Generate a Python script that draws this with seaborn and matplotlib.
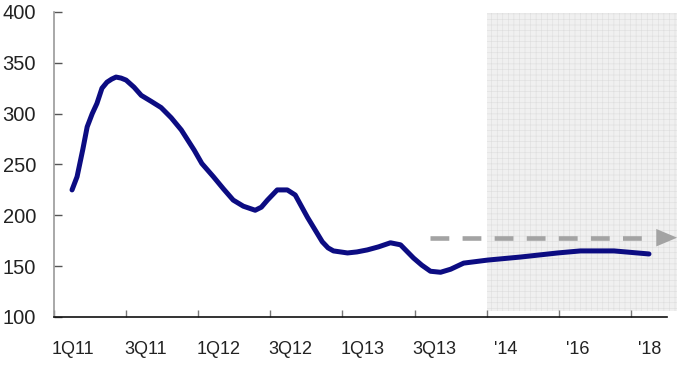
import matplotlib
matplotlib.use("Agg")
import matplotlib.pyplot as plt
import matplotlib.transforms as mtransforms
import seaborn as sns
import pandas as pd

# position along the axis (one unit = one quarter up to '14, compressed after)
x_pos = [0.5, 0.64, 0.8, 0.92, 1.06, 1.19, 1.33, 1.47, 1.6, 1.72, 1.86, 2.0,
         2.22, 2.42, 2.7, 2.97, 3.25, 3.53, 3.89, 4.1, 4.42, 4.7, 4.97, 5.25,
         5.58, 5.75, 5.92, 6.19, 6.47, 6.69, 7.03, 7.44, 7.6, 7.75, 8.14, 8.4,
         8.69, 9.0, 9.33, 9.61, 9.97, 10.2, 10.44, 10.72, 11.0, 11.36, 12.03,
         12.94, 13.97, 14.6, 15.53, 16.5]
values = [225, 238, 265, 287, 300, 310, 325, 331, 334, 336, 335, 333,
          326, 318, 312, 306, 296, 284, 264, 251, 238, 226, 215, 209,
          205, 208, 215, 225, 225, 220, 198, 174, 168, 165, 163, 164,
          166, 169, 173, 171, 158, 151, 145, 144, 147, 153, 156,
          159, 163, 165, 165, 162]

tick_pos = [0, 2, 4, 6, 8, 10, 12, 14, 16]
tick_labels = ["1Q11", "3Q11", "1Q12", "3Q12", "1Q13", "3Q13", "'14", "'16", "'18"]
forecast_start = 12
forecast_end = 17.28
arrow_start = 10.44
arrow_level = 178

df = pd.DataFrame({"x": x_pos, "value": values})

sns.set_theme(style="white")
plt.rcParams["font.family"] = ["Liberation Sans", "DejaVu Sans"]
plt.rcParams["hatch.linewidth"] = 0.4

fig = plt.figure(figsize=(7, 3.69), dpi=100)
ax = fig.add_axes([54 / 700, 1 - 317 / 369, (667 - 54) / 700, (317 - 12) / 369])

# forecast shading
ax.axvspan(forecast_start, forecast_end, ymin=0.02, ymax=0.997,
           facecolor="#f0f0f0", edgecolor="#dedede", hatch="+++",
           linewidth=0, clip_on=False, zorder=0)

sns.lineplot(data=df, x="x", y="value", ax=ax, color="#0c0c82",
             linewidth=3.6, solid_capstyle="round", solid_joinstyle="round",
             zorder=3)

# dashed forecast arrow
ax.plot([arrow_start, forecast_end - 0.72], [arrow_level, arrow_level],
        color="#a3a3a3", linewidth=3.3, dashes=(4.1, 2.9),
        solid_capstyle="butt", clip_on=False, zorder=2)
ax.annotate("", xy=(forecast_end, arrow_level),
            xytext=(forecast_end - 0.72, arrow_level),
            arrowprops=dict(arrowstyle="-|>,head_length=1.0,head_width=0.42",
                            color="#a3a3a3", lw=0, shrinkA=0, shrinkB=0,
                            mutation_scale=15),
            annotation_clip=False, zorder=2)

ax.set_xlim(0, 17)
ax.set_ylim(100, 400)
ax.set_yticks(range(100, 401, 50))
ax.set_xticks(tick_pos)
ax.set_xticklabels(tick_labels, ha="left")
ax.set_xlabel("")
ax.set_ylabel("")

for s in ["top", "right"]:
    ax.spines[s].set_visible(False)
ax.spines["left"].set_color("#999999")
ax.spines["left"].set_linewidth(1.2)
ax.spines["bottom"].set_color("#111111")
ax.spines["bottom"].set_linewidth(1.2)

ax.tick_params(axis="y", direction="in", length=6, width=1, color="#555555",
               labelsize=14.5, labelcolor="#222222", pad=13, left=True)
ax.tick_params(axis="x", direction="in", length=5, width=1, color="#777777",
               labelsize=13, labelcolor="#222222", pad=17, bottom=True)

for lab in ax.get_xticklabels():
    dx = 7 if lab.get_text().startswith("'") else -2
    lab.set_transform(lab.get_transform() +
                      mtransforms.ScaledTranslation(dx / 100, 0, fig.dpi_scale_trans))

fig.savefig("out.png", dpi=100)
